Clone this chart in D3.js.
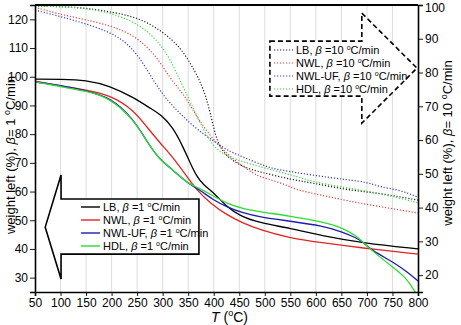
<!DOCTYPE html>
<html>
<head>
<meta charset="utf-8">
<script src="https://cdn.jsdelivr.net/npm/d3@7"></script>
<style>
  body { margin: 0; background: #fff; }
  text { font-family: "Liberation Sans", Arial, sans-serif; }
</style>
</head>
<body>
<div id="chart"></div>
<script>
// 1 °C/min runs (left axis)
let lbT     = [50, 100, 150, 197, 242, 281, 295, 320, 340, 354, 367, 380, 399, 426, 451, 491, 549, 614, 692, 800];
let lbSlow  = [99.2, 99.1, 98.9, 96.8, 92.9, 88.4, 87.0, 82.5, 75.5, 69.9, 65.1, 62.3, 59.8, 54.6, 51.5, 49.0, 47.3, 44.5, 42.1, 40.0];
let nwlT    = [50, 100, 150, 197, 242, 269, 295, 320, 348, 367, 393, 426, 457, 491, 549, 614, 692, 800];
let nwlSlow = [98.5, 96.8, 95.4, 93.6, 88.6, 82.5, 76.9, 72.0, 65.1, 60.5, 56.0, 51.8, 49.0, 46.6, 43.8, 42.1, 40.3, 38.2];
let ufT     = [50, 100, 150, 197, 242, 269, 291, 320, 348, 373, 399, 426, 457, 491, 549, 614, 653, 680, 692, 710, 751, 780, 800];
let ufSlow  = [98.2, 97.0, 95.2, 92.9, 85.5, 77.5, 71.7, 67.5, 63.0, 60.5, 57.1, 54.6, 52.5, 51.1, 49.7, 48.0, 45.9, 43.8, 42.4, 39.4, 35.5, 31.9, 28.8];
let hdlT    = [50, 100, 150, 197, 242, 269, 291, 320, 348, 373, 399, 426, 457, 491, 549, 614, 653, 680, 692, 710, 745, 778, 794, 800];
let hdlSlow = [98.2, 96.6, 95.0, 92.6, 85.3, 77.5, 71.7, 67.5, 63.0, 61.0, 58.5, 55.8, 54.0, 52.9, 51.5, 49.4, 47.3, 44.5, 42.4, 39.4, 34.4, 29.9, 25.0, 23.5];

// 10 °C/min runs (right axis)
let lbFastT  = [50, 138, 203, 256, 301, 334, 359, 379, 393, 406, 426, 457, 491, 555, 594, 661, 725, 800];
let lbFast   = [99.7, 99.4, 97.9, 96.1, 92.0, 87.6, 81.6, 75.7, 68.5, 59.1, 55.0, 52.0, 50.5, 48.2, 47.3, 45.2, 44.3, 42.2];
let nwlFastT = [50, 105, 171, 222, 256, 289, 314, 334, 348, 367, 399, 438, 480, 491, 545, 555, 610, 680, 800];
let nwlFast  = [99.3, 97.0, 95.0, 92.6, 89.6, 84.6, 78.4, 74.8, 71.9, 66.8, 60.0, 54.1, 49.9, 49.1, 46.7, 45.5, 43.7, 41.4, 38.4];
let ufFastT  = [50, 105, 171, 216, 250, 281, 295, 308, 359, 406, 426, 457, 504, 530, 594, 661, 700, 725, 765, 800];
let ufFast   = [98.5, 96.4, 93.5, 90.5, 85.8, 77.8, 74.8, 71.9, 63.9, 59.1, 57.0, 55.0, 52.0, 51.1, 49.6, 48.2, 47.6, 46.1, 45.2, 43.1];
let hdlFastT = [50, 138, 203, 256, 289, 314, 340, 359, 373, 399, 426, 491, 555, 594, 661, 725, 800];
let hdlFast  = [99.7, 99.4, 97.6, 94.1, 89.6, 84.3, 75.7, 69.8, 65.0, 57.9, 55.0, 52.0, 49.6, 47.6, 45.8, 44.3, 41.4];

let xTicks = d3.range(50, 801, 50);
let leftTicks = d3.range(30, 121, 10);
let rightTicks = d3.range(20, 101, 10);

let names = ['LB', 'NWL', 'NWL-UF', 'HDL'];
let colors = ['#000000', '#e3231f', '#1c1cb4', '#2fdc2f'];
let fastColors = ['#222222', '#e0403c', '#3c3cc0', '#3cd23c'];

let W = 461, H = 325;
let plotL = 35, plotR = 418, plotT = 5, plotB = 292;

let svg = d3.select('#chart').append('svg')
    .attr('width', W)
    .attr('height', H)

let x = d3.scaleLinear().domain([50, 800]).range([plotL, plotR])
let yL = d3.scaleLinear().domain([25, 125]).range([plotB, plotT])
let yR = d3.scaleLinear().domain([15, 100]).range([plotB, plotT])

svg.append('clipPath').attr('id', 'clip')
    .append('rect')
    .attr('x', plotL).attr('y', plotT)
    .attr('width', plotR - plotL).attr('height', plotB - plotT)

// vertical grid
svg.selectAll('.grid')
    .data(xTicks.slice(1, -1))
    .enter().append('line')
    .attr('x1', d => x(d)).attr('x2', d => x(d))
    .attr('y1', plotT).attr('y2', plotB)
    .attr('stroke', '#dcdcdc')
    .attr('stroke-width', 1)

let plot = svg.append('g').attr('clip-path', 'url(#clip)')

function drawLine(ts, vs, yScale, color, dotted, width) {
    let pts = ts.map((t, i) => [t, vs[i]])
    let line = d3.line()
        .x(d => x(d[0]))
        .y(d => yScale(d[1]))
        .curve(d3.curveBasis)
    plot.append('path')
        .datum(pts)
        .attr('d', line)
        .attr('fill', 'none')
        .attr('stroke', color)
        .attr('stroke-width', width)
        .attr('stroke-dasharray', dotted ? '1.2,1.8' : null)
}

// fast (dotted) first
let fastSets = [[lbFastT, lbFast], [nwlFastT, nwlFast], [ufFastT, ufFast], [hdlFastT, hdlFast]]
fastSets.forEach((s, i) => drawLine(s[0], s[1], yR, fastColors[i], true, 1.2))

let slowSets = [[lbT, lbSlow], [nwlT, nwlSlow], [ufT, ufSlow], [hdlT, hdlSlow]]
slowSets.forEach((s, i) => drawLine(s[0], s[1], yL, colors[i], false, 1.3))

// axes
let gx = svg.append('g').attr('transform', `translate(0,${plotB})`)
gx.call(d3.axisBottom(x).tickValues(d3.range(50, 801, 5)).tickSize(3).tickFormat(''))
gx.call(d3.axisBottom(x).tickValues(xTicks).tickSize(4).tickPadding(2))

let gl = svg.append('g').attr('transform', `translate(${plotL},0)`)
gl.call(d3.axisLeft(yL).tickValues(d3.range(25, 126, 1)).tickSize(3).tickFormat(''))
gl.call(d3.axisLeft(yL).tickValues(leftTicks).tickSize(5).tickPadding(2))

let gr = svg.append('g').attr('transform', `translate(${plotR},0)`)
gr.call(d3.axisRight(yR).tickValues(d3.range(15, 101, 1)).tickSize(3).tickFormat(''))
gr.call(d3.axisRight(yR).tickValues(rightTicks).tickSize(5).tickPadding(2))

svg.selectAll('.domain').attr('stroke', '#000').attr('stroke-width', 1.6)
svg.selectAll('.tick line').attr('stroke', '#000').attr('stroke-width', 0.9)
svg.selectAll('.tick text')
    .attr('font-family', '"Liberation Sans", Arial, sans-serif')
    .attr('font-size', 12)
    .attr('fill', '#000')

// keep the top right label inside the picture
gr.selectAll('.tick text').filter(d => d === 100).attr('dy', '0.32em').attr('y', 1.5)
gr.selectAll('.tick text').filter(d => d === 100).attr('transform', 'translate(0,1.5)')

// top frame
svg.append('line')
    .attr('x1', plotL).attr('x2', plotR)
    .attr('y1', plotT).attr('y2', plotT)
    .attr('stroke', '#000').attr('stroke-width', 2)

// axis titles
let xt = svg.append('text')
    .attr('x', (plotL + plotR) / 2 + 3).attr('y', 322)
    .attr('text-anchor', 'middle')
    .attr('font-size', 14)
xt.append('tspan').attr('font-style', 'italic').text('T')
xt.append('tspan').text(' (')
xt.append('tspan').attr('font-size', 9).attr('dy', -6).text('o')
xt.append('tspan').attr('dy', 6).text('C)')

function yTitle(xpos, ypos, rate) {
    let t = svg.append('text')
        .attr('transform', `translate(${xpos},${ypos}) rotate(-90)`)
        .attr('text-anchor', 'middle')
        .attr('font-size', 13)
    t.append('tspan').text('weight left (%), ')
    t.append('tspan').attr('font-style', 'italic').text('β')
    t.append('tspan').text('= ' + rate + ' ')
    t.append('tspan').attr('font-size', 9).attr('dy', -5).text('o')
    t.append('tspan').attr('dy', 5).text('C/min')
}
yTitle(15, 155, 1)
yTitle(452, 143, 10)

// solid arrow (1 °C/min legend)
let leftArrow = [[101, 65.8], [101, 57.4], [371, 57.4], [371, 38.2], [101, 38.2], [101, 29.5], [70, 47.6]]
svg.append('path')
    .attr('d', 'M' + leftArrow.map(p => [x(p[0]), yL(p[1])]).join('L') + 'Z')
    .attr('fill', '#fff')
    .attr('stroke', '#000')
    .attr('stroke-width', 1.6)

// dashed arrow (10 °C/min legend)
let rightArrow = [[510, 89.3], [690, 89.3], [690, 97.6], [798, 81.3], [690, 65.0], [690, 73.0], [510, 73.0]]
svg.append('path')
    .attr('d', 'M' + rightArrow.map(p => [x(p[0]), yR(p[1])]).join('L') + 'Z')
    .attr('fill', '#fff')
    .attr('stroke', '#000')
    .attr('stroke-width', 1.6)
    .attr('stroke-dasharray', '5,3')

function legendRow(lx, ly, name, rate, color, dotted) {
    svg.append('line')
        .attr('x1', lx).attr('x2', lx + 19)
        .attr('y1', ly).attr('y2', ly)
        .attr('stroke', color)
        .attr('stroke-width', dotted ? 1.2 : 1.4)
        .attr('stroke-dasharray', dotted ? '1.2,1.8' : null)
    let t = svg.append('text')
        .attr('x', lx + 22).attr('y', ly + 4)
        .attr('font-size', 11)
    t.append('tspan').text(name + ', ')
    t.append('tspan').attr('font-style', 'italic').text('β')
    t.append('tspan').text(' =' + rate + ' ')
    t.append('tspan').attr('font-size', 7).attr('dy', -4).text('o')
    t.append('tspan').attr('dy', 4).text('C/min')
}

names.forEach((n, i) => legendRow(81, 207 + i * 13, n, 1, colors[i], false))
names.forEach((n, i) => legendRow(274, 50 + i * 13, n, 10, fastColors[i], true))
</script>
</body>
</html>
